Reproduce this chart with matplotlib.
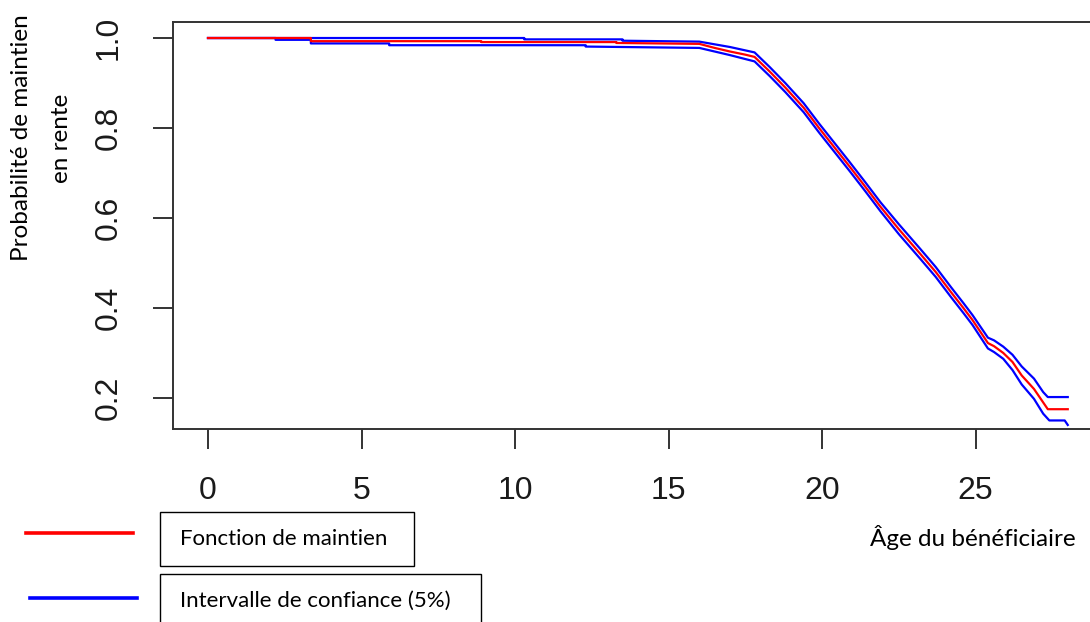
import matplotlib
matplotlib.use('Agg')
import matplotlib.pyplot as plt
from matplotlib.lines import Line2D
from matplotlib.patches import Rectangle

# survival estimate (red)
age_est = [0, 3.35, 3.35, 8.9, 8.9, 13.3, 13.3, 16.0, 16.5, 17.0, 17.5, 17.8,
           18.3, 18.8, 19.4, 19.9, 20.4, 20.9, 21.4, 21.9, 22.5, 23.2, 23.7,
           24.2, 24.6, 24.9, 25.4, 25.6, 25.9, 26.2, 26.5, 26.9, 27.2, 27.35, 28.0]
surv_est = [1.0, 1.0, 0.993, 0.993, 0.991, 0.991, 0.989, 0.987, 0.978, 0.970, 0.963, 0.958,
            0.925, 0.890, 0.845, 0.800, 0.757, 0.714, 0.670, 0.625, 0.575, 0.520, 0.480,
            0.435, 0.400, 0.373, 0.322, 0.315, 0.300, 0.280, 0.250, 0.220, 0.190, 0.175, 0.175]

# confidence band (blue)
age_up = [0, 10.3, 10.3, 13.5, 13.5, 16.0, 17.0, 17.8, 18.3, 18.8, 19.4, 19.9, 20.4,
          20.9, 21.4, 21.9, 22.5, 23.2, 23.7, 24.2, 24.6, 24.9, 25.4, 25.6, 25.9,
          26.2, 26.5, 26.9, 27.2, 27.35, 28.0]
surv_up = [1.0, 1.0, 0.997, 0.997, 0.994, 0.992, 0.980, 0.968, 0.935, 0.900, 0.855, 0.810, 0.767,
           0.724, 0.680, 0.635, 0.586, 0.531, 0.491, 0.446, 0.411, 0.384, 0.334, 0.328, 0.314,
           0.296, 0.270, 0.243, 0.213, 0.202, 0.202]

age_low = [0, 2.2, 2.2, 3.35, 3.35, 5.9, 5.9, 12.3, 12.3, 16.0, 17.0, 17.8, 18.3, 18.8,
           19.4, 19.9, 20.4, 20.9, 21.4, 21.9, 22.5, 23.2, 23.7, 24.2, 24.6, 24.9,
           25.4, 25.6, 25.9, 26.2, 26.5, 26.9, 27.2, 27.4, 27.9, 28.0]
surv_low = [1.0, 1.0, 0.996, 0.996, 0.988, 0.988, 0.984, 0.984, 0.981, 0.978, 0.962, 0.948, 0.915, 0.880,
            0.835, 0.790, 0.747, 0.704, 0.660, 0.615, 0.564, 0.509, 0.469, 0.424, 0.389, 0.362,
            0.310, 0.302, 0.287, 0.262, 0.230, 0.198, 0.165, 0.150, 0.150, 0.140]

xticks = [0, 5, 10, 15, 20, 25]
yticks = [0.2, 0.4, 0.6, 0.8, 1.0]

W, H = 1090, 622
fig = plt.figure(figsize=(W / 100, H / 100), dpi=100)

def fx(px):
    return px / W

def fy(py):
    return 1 - py / H

# axes box: left 173, right beyond the figure, top 22, bottom 429 (pixels)
ax = fig.add_axes([fx(173), fy(429), fx(1100) - fx(173), fy(22) - fy(429)])
ax.plot(age_up, surv_up, color='#0000FF', lw=1.6)
ax.plot(age_low, surv_low, color='#0000FF', lw=1.6)
ax.plot(age_est, surv_est, color='#FF0000', lw=1.6)

ax.set_xlim(-1.14, 29.05)
ax.set_ylim(0.131, 1.0356)
ax.set_xticks(xticks)
ax.set_yticks(yticks)
ax.set_xticklabels([str(t) for t in xticks])
ax.set_yticklabels(['%.1f' % t for t in yticks])
for s in ['top', 'bottom', 'left', 'right']:
    ax.spines[s].set_linewidth(1.4)
    ax.spines[s].set_color('#333333')
ax.tick_params(direction='out', length=14.5, width=1.4, color='#333333',
               labelsize=23, labelcolor='#1a1a1a')
ax.tick_params(axis='x', pad=19)
ax.tick_params(axis='y', pad=21)
for lab in ax.get_xticklabels() + ax.get_yticklabels():
    lab.set_family('Liberation Sans')
plt.setp(ax.get_yticklabels(), rotation=90, va='center')

# axis titles (Calibri-like font)
tfont = 'Lato'
fig.text(fx(22), fy(138), 'Probabilité de maintien', rotation=90, ha='center', va='center',
         fontsize=17.5, family=tfont)
fig.text(fx(61), fy(138), 'en rente', rotation=90, ha='center', va='center',
         fontsize=17.5, family=tfont)
fig.text(fx(973), fy(538), 'Âge du bénéficiaire', ha='center', va='center',
         fontsize=17.5, family=tfont)

# hand-made legend
fig.add_artist(Line2D([fx(26), fx(133)], [fy(533), fy(533)], color='#FF0000', lw=2.6))
fig.add_artist(Line2D([fx(30), fx(137)], [fy(598), fy(598)], color='#0000FF', lw=2.6))
fig.add_artist(Rectangle((fx(160), fy(566)), fx(414) - fx(160), fy(512) - fy(566),
                         fill=False, ec='black', lw=1.0))
fig.add_artist(Rectangle((fx(160), fy(640)), fx(481) - fx(160), fy(574) - fy(640),
                         fill=False, ec='black', lw=1.0))
fig.text(fx(180), fy(539), 'Fonction de maintien', ha='left', va='center', fontsize=16, family=tfont)
fig.text(fx(180), fy(601), 'Intervalle de confiance (5%)', ha='left', va='center', fontsize=16, family=tfont)

fig.savefig('out.png', dpi=100)
